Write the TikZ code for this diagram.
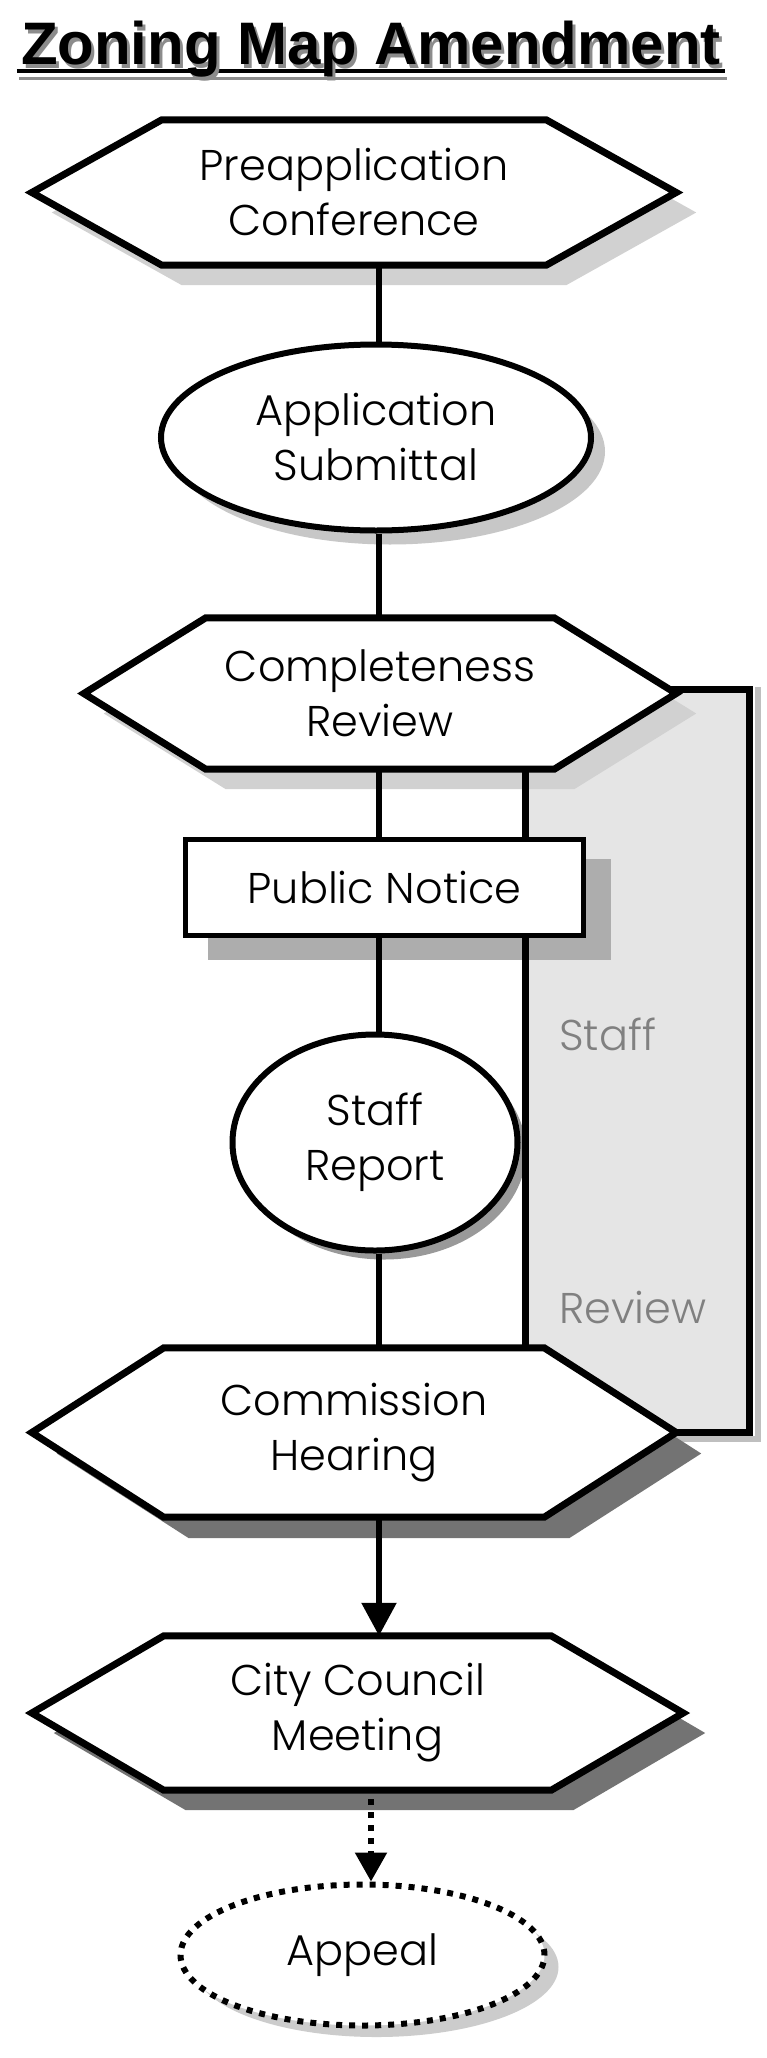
\documentclass[tikz,border=0pt]{standalone}
\usepackage{fontspec}
\setmainfont{Poppins Light}
\newfontfamily\titlefont{Liberation Sans}
\usetikzlibrary{shapes.geometric,backgrounds,arrows.meta}
\newcommand\hexoutline[3]{\path[#3] (#1.west) -- ([xshift=#2pt]#1.north west) -- ([xshift=-#2pt]#1.north east) -- (#1.east) -- ([xshift=-#2pt]#1.south east) -- ([xshift=#2pt]#1.south west) -- cycle;}
\begin{document}
\begin{tikzpicture}[x=1pt,y=-1pt,
  lbl/.style={font=\fontsize{43}{55}\selectfont, align=center, text=black},
  hexnode/.style={lbl, rectangle, inner sep=0pt},
  hexline/.style={draw=black, line width=7pt, fill=white, line join=miter},
  ovalnode/.style={lbl, ellipse, draw=black, line width=6pt, fill=white, inner sep=0pt},
  boxnode/.style={lbl, rectangle, draw=black, line width=5pt, fill=white, inner sep=0pt},
  dotline/.style={dash pattern=on 6pt off 7pt},
  conn/.style={draw=black, line width=5.5pt},
  sidelbl/.style={font=\fontsize{43}{55}\selectfont, text=black!50, inner sep=0pt},
  lightshadow/.style={fill=black!18},
  darkshadow/.style={fill=black!55},
  staffrect/.style={rectangle, fill=black!10, inner sep=0pt},
  titlestyle/.style={font=\titlefont\bfseries\fontsize{60}{70}\selectfont, inner sep=0pt, anchor=base},
]
\useasboundingbox (0,0) rectangle (766,2058);

% title
\node[titlestyle, text=black!45] (titleshade) at (374,68) {Zoning Map Amendment};
\node[titlestyle] (title) at (371,65) {Zoning Map Amendment};

\coordinate (spine) at (379,0);
\coordinate (dspine) at (371,0);

% main nodes
\node[hexnode, minimum width=644pt, minimum height=145pt] (pre) at (354,192.5) {Preapplication\\Conference};
\node[ovalnode, minimum width=430pt, minimum height=186pt] (app) at (376,437.5) {Application\\Submittal};
\node[hexnode, minimum width=592pt, minimum height=151pt] (comp) at (380,693.5) {Completeness\\Review};
\node[boxnode, minimum width=398pt, minimum height=96pt] (pn) at (384.5,887.5) {Public Notice};
\node[ovalnode, minimum width=285pt, minimum height=216pt] (rep) at (375,1142.5) {Staff\\Report};
\node[hexnode, minimum width=644pt, minimum height=169pt] (comm) at (354,1432.5) {Commission\\Hearing};
\node[hexnode, minimum width=651pt, minimum height=154pt] (coun) at (357.5,1713) {City Council\\Meeting};
\node[ovalnode, dotline, minimum width=364pt, minimum height=141pt] (appeal) at (362.5,1955) {Appeal};

\node[sidelbl, anchor=base west] (stafflbl) at (559,1050) {Staff};
\node[sidelbl, anchor=base west] (reviewlbl) at (559,1323) {Review};

\begin{scope}[on background layer]
  \fill[white] (0,0) rectangle (766,2058);
  % title underline shadow
  \draw[black!45, line width=3pt] ([xshift=-2pt,yshift=-13pt]title.base west) -- ([xshift=6pt,yshift=-13pt]title.base east);
  % staff review panel
  \node[staffrect, minimum width=224pt, minimum height=743pt] (sr) at (637.5,1061) {};
  \fill[black!25] ([xshift=5pt,yshift=2pt]sr.north east) rectangle ([xshift=11pt,yshift=-9pt]sr.south east);
  \fill[black!25] ([xshift=5pt,yshift=-3pt]sr.south west) rectangle ([xshift=11pt,yshift=-9pt]sr.south east);
  % shadows
  \begin{scope}[transform canvas={shift={(20pt,-20pt)}}]
    \hexoutline{pre}{130}{lightshadow}
    \hexoutline{comp}{122}{lightshadow}
  \end{scope}
  \begin{scope}[transform canvas={shift={(25pt,-21pt)}}]
    \hexoutline{comm}{132}{darkshadow}
  \end{scope}
  \begin{scope}[transform canvas={shift={(22pt,-20pt)}}]
    \hexoutline{coun}{132}{darkshadow}
  \end{scope}
  \fill[black!22] ([xshift=14pt,yshift=-14pt]app.center) ellipse [x radius=215pt, y radius=93pt];
  \fill[black!40] ([xshift=9pt,yshift=-9pt]rep.center) ellipse [x radius=142pt, y radius=108pt];
  \fill[black!20] ([xshift=14pt,yshift=-12pt]appeal.center) ellipse [x radius=182pt, y radius=70pt];
  \fill[black!32] ([xshift=25pt,yshift=-22pt]pn.north west) rectangle ([xshift=25pt,yshift=-22pt]pn.south east);
  \draw[line width=6.5pt] (sr.north west) rectangle (sr.south east);
  % connectors
  \draw[conn] (pre.south -| spine) -- (app.north -| spine);
  \draw[conn] (app.south -| spine) -- (comp.north -| spine);
  \draw[conn] (comp.south -| spine) -- (pn.north -| spine);
  \draw[conn] (pn.south -| spine) -- (rep.north -| spine);
  \draw[conn] (rep.south -| spine) -- (comm.north -| spine);
  \draw[conn, -{Triangle[width=34pt,length=33pt]}] (comm.south -| spine) -- (coun.north -| spine);
  \draw[conn, dotline, -{Triangle[width=31pt,length=29pt]}] ([yshift=4pt]coun.south -| dspine) -- (appeal.north -| dspine);
  % hexagons
  \hexoutline{pre}{130}{hexline}
  \hexoutline{comp}{122}{hexline}
  \hexoutline{comm}{132}{hexline}
  \hexoutline{coun}{132}{hexline}
  % title underline (main)
  \draw[black, line width=4.5pt] ([xshift=-4pt,yshift=-6pt]title.base west) -- ([xshift=4pt,yshift=-6pt]title.base east);
\end{scope}
\end{tikzpicture}
\end{document}
